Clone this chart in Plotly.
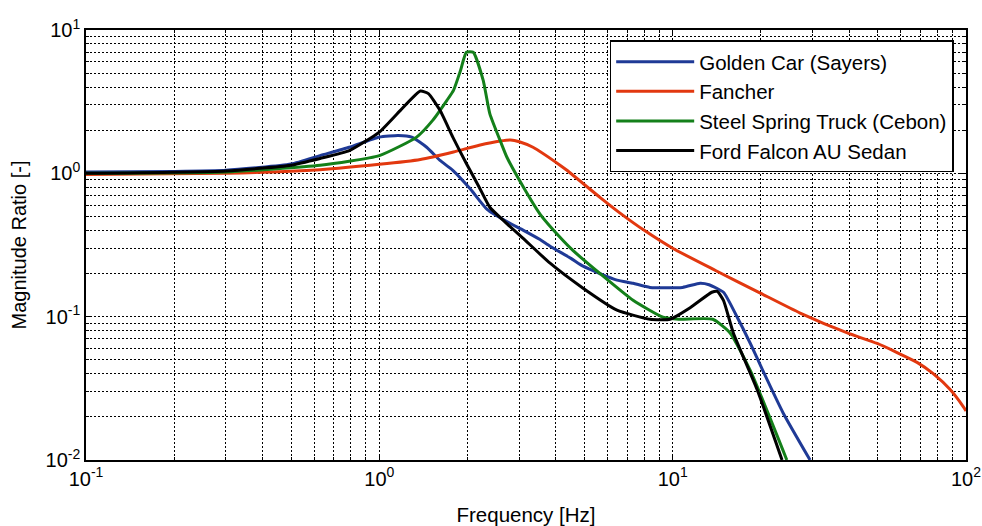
import plotly.graph_objects as go

# ---------------- data ----------------
golden_x = [0.1, 0.2, 0.3, 0.5, 0.628, 0.79, 1.0, 1.16, 1.29, 1.45, 1.61, 1.78, 2.04,
            2.33, 2.72, 3.1, 3.53, 3.82, 4.5, 4.95, 5.65, 6.46, 7.33, 8.37, 10.8, 12.4, 13.3,
            14.9, 16.6, 18.4, 20.3, 23.8, 29.4]
golden_y = [1.02, 1.03, 1.05, 1.16, 1.33, 1.52, 1.79, 1.84, 1.79, 1.52, 1.23, 1.05, 0.78,
            0.56, 0.46, 0.40, 0.345, 0.31, 0.255, 0.225, 0.20, 0.18, 0.171, 0.16, 0.16, 0.171, 0.167,
            0.148, 0.099, 0.065, 0.042, 0.0213, 0.01]

fancher_x = [0.1, 0.3, 0.628, 1.0, 1.38, 1.79, 2.19, 2.58, 2.8, 3.0, 3.34, 4.13, 4.36, 5.65,
             6.6, 8.0, 10.0, 14.0, 19.9, 27.2, 39.4, 49.8, 68.1, 77.3, 88.3, 97.7, 100]
fancher_y = [0.98, 1.0, 1.06, 1.155, 1.25, 1.41, 1.57, 1.68, 1.71, 1.66, 1.52, 1.14, 1.05, 0.68,
             0.53, 0.40, 0.30, 0.21, 0.146, 0.106, 0.077, 0.065, 0.048, 0.040, 0.031, 0.0237, 0.022]

truck_x = [0.1, 0.3, 0.628, 1.0, 1.34, 1.52, 1.70, 1.79, 1.89, 1.98, 2.09, 2.26, 2.38, 2.61, 2.72,
           3.1, 3.53, 4.07, 4.57, 5.65, 7.33, 9.27, 10.5, 13.7, 15.7, 18.4, 24.5]
truck_y = [1.0, 1.02, 1.137, 1.33, 1.79, 2.34, 3.23, 3.79, 5.2, 7.0, 7.0, 4.45, 2.61, 1.6, 1.30,
           0.80, 0.52, 0.37, 0.29, 0.20, 0.13, 0.099, 0.096, 0.096, 0.077, 0.042, 0.01]

falcon_x = [0.1, 0.3, 0.5, 0.628, 0.79, 1.0, 1.18, 1.38, 1.47, 1.61, 1.78, 1.98, 2.19, 2.38,
            2.72, 3.1, 3.82, 4.95, 6.46, 8.37, 9.8, 11.5, 13.6, 14.2, 14.9, 16.1, 19.4, 23.6]
falcon_y = [1.0, 1.04, 1.14, 1.27, 1.44, 1.94, 2.75, 3.75, 3.6, 2.75, 1.79, 1.17, 0.80, 0.58,
            0.446, 0.35, 0.236, 0.158, 0.111, 0.096, 0.096, 0.116, 0.148, 0.15, 0.13, 0.077, 0.031, 0.01]

series_names = ["Golden Car (Sayers)", "Fancher", "Steel Spring Truck (Cebon)", "Ford Falcon AU Sedan"]
series_colors = ["#1f3a96", "#e2380f", "#14801a", "#000000"]

x_tickvals = [0.1, 1, 10, 100]
x_ticktext = ["10<sup>-1</sup>", "10<sup>0</sup>", "10<sup>1</sup>", "10<sup>2</sup>"]
y_tickvals = [0.01, 0.1, 1, 10]
y_ticktext = ["10<sup>-2</sup>", "10<sup>-1</sup>", "10<sup>0</sup>", "10<sup>1</sup>"]

# minor grid positions (2..9 within each decade)
x_minor = [m * 10 ** e for e in range(-1, 2) for m in range(2, 10)]
y_minor = [m * 10 ** e for e in range(-2, 1) for m in range(2, 10)]

FONT = "Liberation Sans, Arial, Helvetica, sans-serif"
GRID_DASH = "2px,2px"

fig = go.Figure()
for xs, ys, name, col in zip([golden_x, fancher_x, truck_x, falcon_x],
                             [golden_y, fancher_y, truck_y, falcon_y],
                             series_names, series_colors):
    fig.add_trace(go.Scatter(x=xs, y=ys, mode="lines", name=name,
                             line=dict(color=col, width=3, shape="spline", smoothing=0.5)))

axis_common = dict(
    type="log",
    automargin=False,
    showline=True, linecolor="black", linewidth=1.5, mirror="allticks",
    ticks="inside", ticklen=6, tickcolor="black", tickwidth=1,
    showgrid=True, gridcolor="black", griddash=GRID_DASH, gridwidth=1,
    tickfont=dict(family=FONT, size=20, color="black"),
    zeroline=False,
)

fig.update_xaxes(
    **axis_common,
    range=[-1, 2],
    tickmode="array", tickvals=x_tickvals, ticktext=x_ticktext,
    minor=dict(tickmode="array", tickvals=x_minor, ticks="inside", ticklen=3,
               tickcolor="black", showgrid=True, gridcolor="black", griddash=GRID_DASH, gridwidth=1),
    title=dict(text="Frequency [Hz]", font=dict(family=FONT, size=20.5, color="black"), standoff=20),
)
fig.update_yaxes(
    **axis_common,
    range=[-2, 1],
    tickmode="array", tickvals=y_tickvals, ticktext=y_ticktext,
    minor=dict(tickmode="array", tickvals=y_minor, ticks="inside", ticklen=3,
               tickcolor="black", showgrid=True, gridcolor="black", griddash=GRID_DASH, gridwidth=1),
    title=dict(text="Magnitude Ratio [-]", font=dict(family=FONT, size=20, color="black"), standoff=14),
)

fig.update_layout(
    width=982, height=526,
    margin=dict(l=86, r=16, t=30, b=66),
    paper_bgcolor="white", plot_bgcolor="white",
    font=dict(family=FONT, size=20, color="black"),
    showlegend=True,
    legend=dict(
        x=0.986, y=0.976, xanchor="right", yanchor="top",
        bgcolor="white", bordercolor="black", borderwidth=1.5,
        font=dict(family=FONT, size=20.5, color="black"),
        tracegroupgap=0, itemwidth=78,
    ),
)

fig.write_html("out.html")
